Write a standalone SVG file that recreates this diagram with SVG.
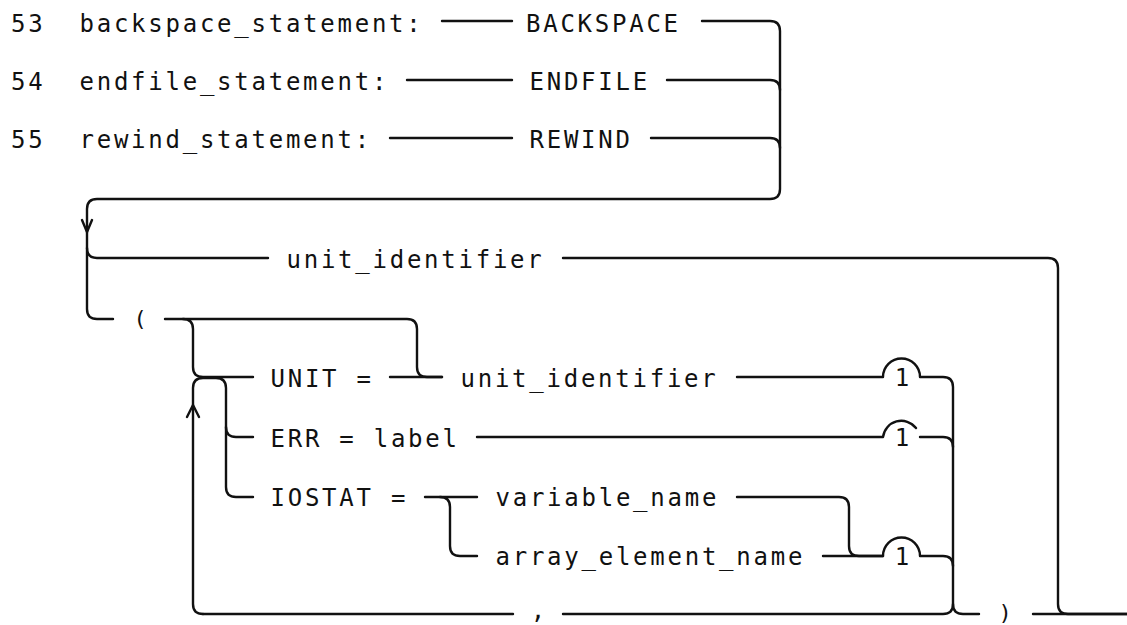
<svg xmlns="http://www.w3.org/2000/svg" width="1127" height="625" viewBox="0 0 1127 625">
<style>
  .t { font-family: "DejaVu Sans Mono", "Liberation Mono", monospace; font-size: 24px; letter-spacing: 2.75px; fill: #111; }
  .c { font-family: "DejaVu Sans Mono", "Liberation Mono", monospace; font-size: 24px; fill: #111; text-anchor: middle; }
  .p { font-family: "DejaVu Sans Mono", "Liberation Mono", monospace; font-size: 22px; fill: #111; text-anchor: middle; }
  .l { fill: none; stroke: #111; stroke-width: 2.4; stroke-linecap: round; stroke-linejoin: round; }
</style>
<rect width="1127" height="625" fill="#fff"/>
<g id="connectors" class="l">
  <path d="M442,21 H512"/>
  <path d="M407,80 H512"/>
  <path d="M390,138 H512"/>
  <path d="M702,21 H770 Q780,21 780,31 V189 Q780,199 770,199 H97 Q87,199 87,209 V309 Q87,319 97,319 H113"/>
  <path d="M667,80 H770 Q780,80 780,90"/>
  <path d="M651,138 H770 Q780,138 780,148"/>
  <path d="M82,220 L87,232 L92,220"/>
  <path d="M87,248 Q87,258 97,258 H268"/>
  <path d="M563,258 H1048 Q1058,258 1058,268 V604 Q1058,614 1068,614 H1127"/>
  <path d="M1033,614 H1127"/>
  <path d="M165,319 H407 Q417,319 417,329 V367 Q417,377 427,377 H442"/>
  <path d="M183,319 Q193,319 193,329 V367 Q193,377 203,377 H253"/>
  <path d="M203,614 Q193,614 193,604 V388 Q193,378 203,378 H216 Q226,378 226,388 V487 Q226,497 236,497 H253"/>
  <path d="M226,427 Q226,437 236,437 H253"/>
  <path d="M187,417 L193,405 L199,417"/>
  <path d="M390,377 H442"/>
  <path d="M737,377 H883 A18.5,18.5 0 0 1 920,377 H943 Q953,377 953,387 V604 Q953,614 963,614 H979"/>
  <path d="M953,604 Q953,614 943,614 H563"/>
  <path d="M513,614 H203"/>
  <path d="M477,437 H883 A18.5,18.5 0 0 1 916,428"/>
  <path d="M920,437 H943 Q953,437 953,447"/>
  <path d="M425,497 H477"/>
  <path d="M440,497 Q450,497 450,507 V546 Q450,556 460,556 H477"/>
  <path d="M737,497 H839 Q849,497 849,507 V546 Q849,556 859,556 H883"/>
  <path d="M823,556 H883 A18.5,18.5 0 0 1 920,556 H943 Q953,556 953,566"/>
</g>
<g id="n53"><text class="t" x="11" y="32">53</text></g>
<g id="n54"><text class="t" x="11" y="90">54</text></g>
<g id="n55"><text class="t" x="11" y="148">55</text></g>
<g id="backspace_statement"><text class="t" x="79.5" y="32">backspace_statement:</text></g>
<g id="endfile_statement"><text class="t" x="79.5" y="90">endfile_statement:</text></g>
<g id="rewind_statement"><text class="t" x="79.5" y="148">rewind_statement:</text></g>
<g id="BACKSPACE"><text class="t" x="526" y="32">BACKSPACE</text></g>
<g id="ENDFILE"><text class="t" x="529.5" y="90">ENDFILE</text></g>
<g id="REWIND"><text class="t" x="529.5" y="148">REWIND</text></g>
<g id="unit_identifier_1"><text class="t" x="286.5" y="268">unit_identifier</text></g>
<g id="lparen"><text class="p" x="140" y="326">(</text></g>
<g id="UNIT"><text class="t" x="270.5" y="387">UNIT =</text></g>
<g id="unit_identifier_2"><text class="t" x="460.5" y="387">unit_identifier</text></g>
<g id="ERR"><text class="t" x="270.5" y="447">ERR = label</text></g>
<g id="IOSTAT"><text class="t" x="270.5" y="506">IOSTAT =</text></g>
<g id="variable_name"><text class="t" x="495.5" y="506">variable_name</text></g>
<g id="array_element_name"><text class="t" x="495.5" y="565">array_element_name</text></g>
<g id="note1a"><text class="c" x="902" y="386">1</text></g>
<g id="note1b"><text class="c" x="902" y="446">1</text></g>
<g id="note1c"><text class="c" x="902" y="565">1</text></g>
<g id="comma"><text class="c" x="538" y="619">,</text></g>
<g id="rparen"><text class="p" x="1005" y="620">)</text></g>
</svg>
